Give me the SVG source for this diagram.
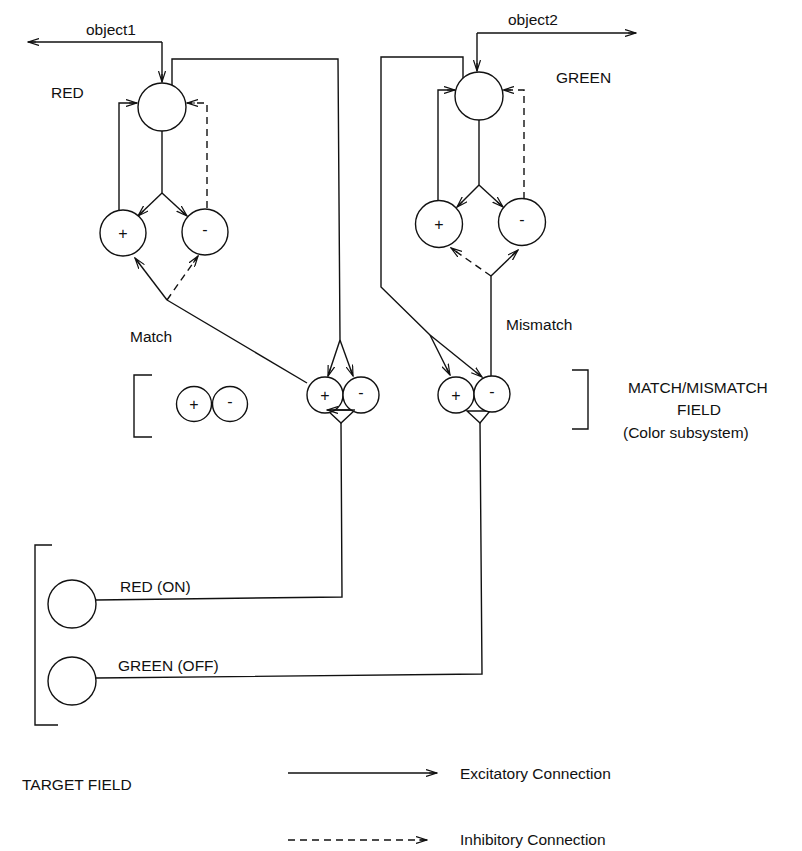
<svg xmlns="http://www.w3.org/2000/svg" width="802" height="851" viewBox="0 0 802 851">
<defs>
<marker id="arr" viewBox="0 0 12 8" refX="11" refY="4" markerWidth="12" markerHeight="8" markerUnits="userSpaceOnUse" orient="auto">
<path d="M0,0.5 L11,4 L0,7.5 M3,4 L11,4" fill="none" stroke="#111" stroke-width="1.2"/>
</marker>
</defs>
<style>
.n{fill:#fff;stroke:#111;stroke-width:1.4}
.c{fill:none;stroke:#111;stroke-width:1.4}
.d{fill:none;stroke:#111;stroke-width:1.4;stroke-dasharray:7 5}
.a{marker-end:url(#arr)}
.t{font-family:"Liberation Sans",Arial,sans-serif;font-size:15.5px;fill:#111}
.s{font-family:"Liberation Sans",Arial,sans-serif;font-size:16px;fill:#111;text-anchor:middle}
</style>
<rect width="802" height="851" fill="#fff"/>

<g id="connectors">
<!-- RED cluster -->
<path class="c a" d="M162,42 L28,42"/>
<path class="c a" d="M162,42 L162,82"/>
<path class="c" d="M172,85 L172,59 L338,59 L340,340"/>
<path class="c a" d="M340,340 L328,376"/>
<path class="c a" d="M340,340 L353,376"/>
<path class="c a" d="M119,210 L119,103 L137,103"/>
<path class="d a" d="M207,208 L207,103 L187,103"/>
<path class="c" d="M162,131 L162,193"/>
<path class="c a" d="M162,193 L138,216"/>
<path class="c a" d="M162,193 L187,216"/>
<path class="c" d="M307,383 L167,300"/>
<path class="c a" d="M167,300 L135,258"/>
<path class="d a" d="M167,300 L198,256"/>
<!-- GREEN cluster -->
<path class="c a" d="M477,33 L636,33"/>
<path class="c a" d="M477,33 L477,71"/>
<path class="c" d="M463,78 L463,57 L381,57 L381,287 L430,335"/>
<path class="c a" d="M430,335 L450,375"/>
<path class="c a" d="M430,335 L482,377"/>
<path class="c a" d="M438,200 L438,90 L455,90"/>
<path class="d a" d="M524,199 L524,90 L503,90"/>
<path class="c" d="M479,120 L479,185"/>
<path class="c a" d="M479,185 L457,207"/>
<path class="c a" d="M479,185 L503,207"/>
<path class="c" d="M491,276 L491,376"/>
<path class="c a" d="M491,276 L518,250"/>
<path class="d a" d="M491,276 L451,248"/>
<!-- to target field -->
<path class="c" d="M341,423 L342,597 L96,600"/>
<path class="c" d="M480,423 L482,674 L96,678"/>
<!-- legend -->
<path class="c a" d="M288,773 L437,773"/>
<path class="d a" d="M288,840 L427,840"/>
</g>

<g id="red-top"><circle class="n" cx="162" cy="107" r="24"/></g>
<g id="red-plus"><circle class="n" cx="123" cy="233" r="23"/><text class="s" x="123" y="239">+</text></g>
<g id="red-minus"><circle class="n" cx="205" cy="232" r="23"/><text class="s" x="205" y="235">-</text></g>

<g id="green-top"><circle class="n" cx="479" cy="96" r="24"/></g>
<g id="green-plus"><circle class="n" cx="439" cy="224" r="23.5"/><text class="s" x="439" y="230">+</text></g>
<g id="green-minus"><circle class="n" cx="522" cy="222" r="23.5"/><text class="s" x="522" y="225">-</text></g>

<g id="legend-pair">
<circle class="n" cx="194" cy="404" r="17.5"/><text class="s" x="194" y="410">+</text>
<circle class="n" cx="230" cy="404" r="17.5"/><text class="s" x="230" y="407">-</text>
</g>
<g id="match-red">
<polygon class="n" points="327,410 355,410 341,423"/>
<circle class="n" cx="325" cy="395" r="18"/><text class="s" x="325" y="401">+</text>
<circle class="n" cx="361" cy="395" r="18"/><text class="s" x="361" y="398">-</text>
<path class="c a" d="M355,410 L327,410"/>
</g>
<g id="match-green">
<polygon class="n" points="467,411 490,411 480,423"/>
<circle class="n" cx="456" cy="395" r="18"/><text class="s" x="456" y="401">+</text>
<circle class="n" cx="492" cy="394" r="18"/><text class="s" x="492" y="397">-</text>
</g>

<g id="target-red"><circle class="n" cx="72" cy="604" r="24"/></g>
<g id="target-green"><circle class="n" cx="72" cy="681" r="24"/></g>

<g id="brackets">
<path class="c" d="M152,375 L134,375 L134,437 L152,437"/>
<path class="c" d="M572,370 L588,370 L588,429 L572,429"/>
<path class="c" d="M52,545 L35,545 L35,725 L58,725"/>
</g>

<g id="labels">
<text class="t" x="86" y="35">object1</text>
<text class="t" x="51" y="98">RED</text>
<text class="t" x="508" y="25">object2</text>
<text class="t" x="556" y="83">GREEN</text>
<text class="t" x="130" y="342">Match</text>
<text class="t" x="506" y="330">Mismatch</text>
<text class="t" x="628" y="393">MATCH/MISMATCH</text>
<text class="t" x="677" y="415">FIELD</text>
<text class="t" x="623" y="438">(Color subsystem)</text>
<text class="t" x="120" y="592">RED (ON)</text>
<text class="t" x="118" y="671">GREEN (OFF)</text>
<text class="t" x="22" y="790">TARGET FIELD</text>
<text class="t" x="460" y="779">Excitatory Connection</text>
<text class="t" x="460" y="845">Inhibitory Connection</text>
</g>
</svg>
